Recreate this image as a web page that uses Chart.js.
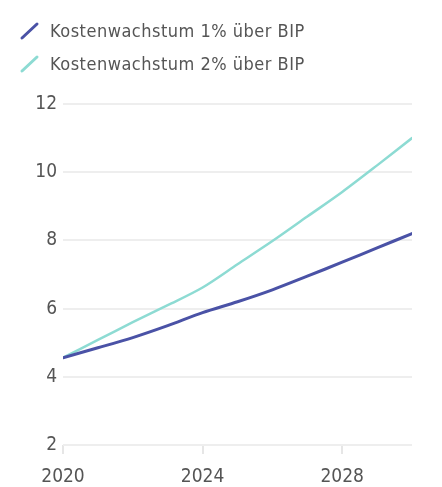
<!DOCTYPE html>
<html>
<head>
<meta charset="utf-8">
<script src="https://cdn.jsdelivr.net/npm/chart.js@4.4.1/dist/chart.umd.min.js"></script>
<style>
  html, body { margin: 0; padding: 0; background: #ffffff; }
  #wrap { position: relative; width: 442px; height: 487px; }
  #legend { position: absolute; left: 0; top: 0; width: 442px; font-family: 'DejaVu Sans Condensed', 'Roboto', sans-serif; font-size: 18px; letter-spacing: 0.5px; color: #555; }
  .item { position: absolute; left: 0; height: 24px; }
  .item svg { position: absolute; left: 19px; top: 2px; }
  .item span { position: absolute; left: 50px; top: 0; white-space: nowrap; line-height: 24px; }
  canvas { position: absolute; left: 0; top: 0; }
</style>
</head>
<body>
<div id="wrap">
  <canvas id="c" width="442" height="487"></canvas>
  <div id="legend"></div>
</div>
<script>
const years = [2020, 2021, 2022, 2023, 2024, 2025, 2026, 2027, 2028, 2029, 2030];
const growth1 = [4.56, 4.85, 5.15, 5.5, 5.88, 6.2, 6.55, 6.95, 7.36, 7.78, 8.2];
const growth2 = [4.56, 5.08, 5.6, 6.1, 6.62, 7.3, 7.98, 8.7, 9.42, 10.2, 11.0];
const seriesNames = ['Kostenwachstum 1% über BIP', 'Kostenwachstum 2% über BIP'];
const xTicks = [2020, 2024, 2028];
const yTicks = [2, 4, 6, 8, 10, 12];

const colors = ['#4a52a6', '#8ddbd3'];
const FONT = "'DejaVu Sans Condensed', 'Roboto', sans-serif";

// legend
const legend = document.getElementById('legend');
seriesNames.forEach((name, i) => {
  const d = document.createElement('div');
  d.className = 'item';
  d.style.top = (19 + i * 33) + 'px';
  d.innerHTML = '<svg width="22" height="20"><line x1="3" y1="17" x2="18" y2="3" stroke="' + colors[i] + '" stroke-width="3" stroke-linecap="round"/></svg><span>' + name + '</span>';
  legend.appendChild(d);
});

const toXY = arr => arr.map((v, i) => ({ x: years[i], y: v }));

new Chart(document.getElementById('c'), {
  type: 'line',
  data: {
    datasets: [
      { label: seriesNames[0], data: toXY(growth1), borderColor: colors[0], borderWidth: 3, pointRadius: 0, tension: 0.3, borderCapStyle: 'round' },
      { label: seriesNames[1], data: toXY(growth2), borderColor: colors[1], borderWidth: 2.5, pointRadius: 0, tension: 0.3, borderCapStyle: 'round' }
    ]
  },
  options: {
    responsive: false,
    animation: false,
    layout: { padding: { top: 104, right: 30, left: 0, bottom: 0 } },
    plugins: { legend: { display: false }, tooltip: { enabled: false } },
    scales: {
      x: {
        type: 'linear',
        min: years[0],
        max: years[years.length - 1],
        afterBuildTicks: s => { s.ticks = xTicks.map(v => ({ value: v })); },
        afterFit: s => { s.height = 42; },
        border: { display: false },
        grid: { drawOnChartArea: false, drawTicks: true, tickLength: 9, color: '#e6e6e6', lineWidth: 2 },
        ticks: { color: '#555', padding: 12, font: { family: FONT, size: 19 }, callback: v => String(v), maxRotation: 0 }
      },
      y: {
        min: 2,
        max: 12,
        afterBuildTicks: s => { s.ticks = yTicks.map(v => ({ value: v })); },
        afterFit: s => { s.width = 63; },
        border: { display: false },
        grid: { color: '#eeeeee', lineWidth: 2, drawTicks: false },
        ticks: { color: '#555', padding: 6, font: { family: FONT, size: 19 } }
      }
    }
  }
});
</script>
</body>
</html>
